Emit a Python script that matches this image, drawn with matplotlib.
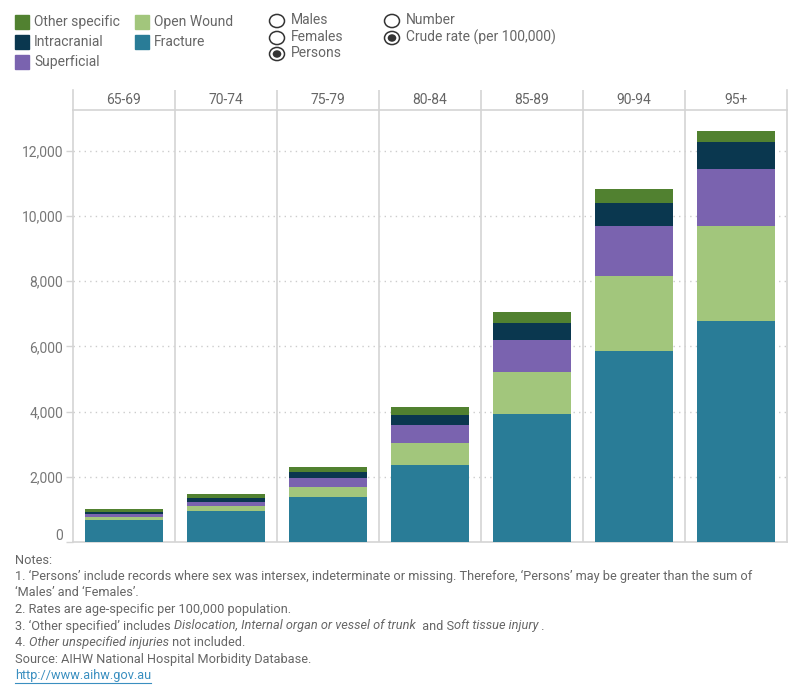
import matplotlib
matplotlib.use("Agg")
import matplotlib.pyplot as plt
from matplotlib.patches import Rectangle, Circle
from matplotlib.transforms import ScaledTranslation
from matplotlib.lines import Line2D
import numpy as np

plt.rcParams['font.family'] = ['Roboto', 'DejaVu Sans']

age_groups = ["65-69", "70-74", "75-79", "80-84", "85-89", "90-94", "95+"]
fracture = [675, 951, 1380, 2362, 3926, 5858, 6778]
open_wound = [92, 153, 307, 674, 1288, 2300, 2914]
superficial = [92, 123, 276, 552, 981, 1534, 1748]
intracranial = [61, 123, 184, 307, 522, 706, 837]
other_specific = [92, 123, 153, 245, 337, 429, 337]

series = [
    ("Fracture", fracture, "#297C97"),
    ("Open Wound", open_wound, "#A2C67C"),
    ("Superficial", superficial, "#7A63AF"),
    ("Intracranial", intracranial, "#0A374F"),
    ("Other specific", other_specific, "#518130"),
]
yticks = [0, 2000, 4000, 6000, 8000, 10000, 12000]

W, H = 800, 700
fig = plt.figure(figsize=(8, 7), dpi=100)

def fx(px):
    return px / W

def fy(py):
    return 1 - py / H

grid_c = "#d4d4d4"
text_c = "#666666"

L, R, T, B = 73, 787, 110, 542
ax = fig.add_axes([fx(L), fy(B), fx(R - L), (B - T) / H])
x = np.arange(len(age_groups))
bottom = np.zeros(len(age_groups))
for name, vals, col in series:
    ax.bar(x, vals, bottom=bottom, width=0.755, color=col, zorder=3, linewidth=0)
    bottom += np.array(vals)
ax.set_xlim(-0.5, len(age_groups) - 0.5)
ax.set_ylim(0, 13250)
ax.set_xticks([])
ax.set_yticks(yticks)
ax.set_yticklabels([f"{v:,}" for v in yticks], color="#777777", fontsize=10)
ax.tick_params(axis='y', length=5, color=grid_c, width=1, pad=2)
for v in yticks[1:]:
    ax.axhline(v, color="#cccccc", linestyle=(0, (1, 3)), linewidth=1, zorder=1)
for xi in np.arange(0.5, len(age_groups) - 0.5, 1):
    ax.axvline(xi, color=grid_c, linewidth=1.2, zorder=2)
ax.spines['top'].set_visible(False)
for s in ['left', 'right', 'bottom']:
    ax.spines[s].set_color(grid_c)
    ax.spines[s].set_linewidth(1.2)
lbl0 = ax.get_yticklabels()[0]
lbl0.set_transform(lbl0.get_transform() + ScaledTranslation(0, 8 / 100, fig.dpi_scale_trans))

# header axes
hx = fig.add_axes([fx(L), fy(T), fx(R - L), (T - 90) / H])
hx.set_xlim(-0.5, len(age_groups) - 0.5)
hx.set_ylim(0, 1)
hx.set_xticks([]); hx.set_yticks([])
hx.spines['top'].set_visible(False)
for s in ['left', 'right', 'bottom']:
    hx.spines[s].set_color(grid_c)
    hx.spines[s].set_linewidth(1.2)
for xi in np.arange(0.5, len(age_groups) - 0.5, 1):
    hx.axvline(xi, color=grid_c, linewidth=1.2)
for i, g in enumerate(age_groups):
    hx.text(i, 0.5, g, ha='center', va='center', color=text_c, fontsize=10)

# legend
leg_items = [("Other specific", "#518130", 15, 22), ("Intracranial", "#0A374F", 15, 42),
             ("Superficial", "#7A63AF", 15, 62), ("Open Wound", "#A2C67C", 135, 22),
             ("Fracture", "#297C97", 135, 42)]
for name, col, px, py in leg_items:
    fig.patches.append(Rectangle((fx(px), fy(py + 7)), 14 / W, 14 / H, color=col,
                                 transform=fig.transFigure, figure=fig))
    fig.text(fx(px + 19), fy(py), name, color=text_c, fontsize=10, va='center', ha='left')

def radio(cx, cy, label, sel):
    fig.patches.append(Circle((fx(cx), fy(cy)), 7.5 / W, transform=fig.transFigure,
                              facecolor='white', edgecolor='#333333', linewidth=1.1, figure=fig))
    if sel:
        fig.patches.append(Circle((fx(cx), fy(cy)), 4.3 / W, transform=fig.transFigure,
                                  facecolor='#333333', edgecolor='none', figure=fig))
    fig.text(fx(cx + 14), fy(cy - 1), label, color=text_c, fontsize=10, va='center', ha='left')

radio(277, 21, "Males", False)
radio(277, 38, "Females", False)
radio(277, 54, "Persons", True)
radio(392, 21, "Number", False)
radio(392, 38, "Crude rate (per 100,000)", True)

# notes
note_fs = 9.2
notes = [
    [("Notes:", 'normal')],
    [("1. \u2018Persons\u2019 include records where sex was intersex, indeterminate or missing. Therefore, \u2018Persons\u2019 may be greater than the sum of", 'normal')],
    [("\u2018Males\u2019 and \u2018Females\u2019.", 'normal')],
    [("2. Rates are age-specific per 100,000 population.", 'normal')],
    [("3. \u2018Other specified\u2019 includes ", 'normal'), ("Dislocation, Internal organ or vessel of trunk", 'italic'),
     ("  and S", 'normal'), ("oft tissue injury", 'italic'), (" .", 'normal')],
    [("4. ", 'normal'), ("Other unspecified injuries", 'italic'), (" not included.", 'normal')],
    [("Source: AIHW National Hospital Morbidity Database.", 'normal')],
]
fig.canvas.draw()
renderer = fig.canvas.get_renderer()
y0 = 560
for i, line in enumerate(notes):
    cur = 15
    py = y0 + i * 16.5
    for txt, style in line:
        t = fig.text(fx(cur), fy(py), txt, fontsize=note_fs, color=text_c, style=style,
                     va='center', ha='left')
        bb = t.get_window_extent(renderer)
        cur += bb.width
url_y = y0 + 7 * 16.5
t = fig.text(fx(15), fy(url_y), "http://www.aihw.gov.au", fontsize=note_fs, color="#3a8fc0",
             va='center', ha='left')
bb = t.get_window_extent(renderer)
fig.lines.append(Line2D([fx(15), fx(15 + bb.width)], [fy(url_y + 7), fy(url_y + 7)],
                        transform=fig.transFigure, color="#3a8fc0", linewidth=0.8))

fig.savefig("out.png", dpi=100)
